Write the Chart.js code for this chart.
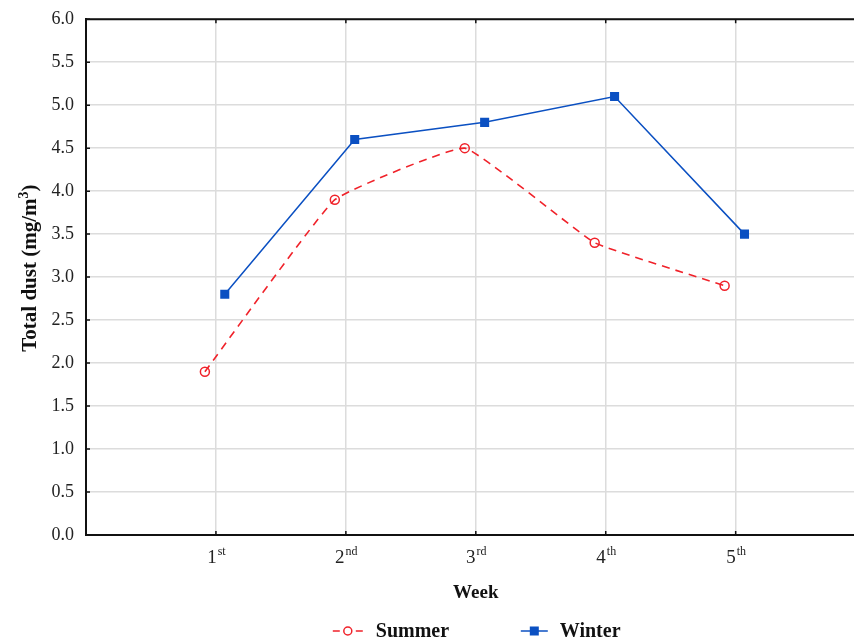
<!DOCTYPE html>
<html>
<head>
<meta charset="utf-8">
<script src="https://cdn.jsdelivr.net/npm/chart.js@4"></script>
<style>
  html, body { margin: 0; padding: 0; background: #fff; overflow: hidden; }
  #wrap { width: 872px; height: 642px; }
</style>
</head>
<body>
<div id="wrap"><canvas id="dustChart"></canvas></div>
<script>
// data
const weeks = [1, 2, 3, 4, 5];
const weekSuffix = ["st", "nd", "rd", "th", "th"];
const summerDust = [1.9, 3.9, 4.5, 3.4, 2.9];
const winterDust = [2.8, 4.6, 4.8, 5.1, 3.5];
const yTickStep = 0.5;
const yMax = 6;

const RED = "#f0222a";
const BLUE = "#0b50c2";
const SERIF = "'Liberation Serif', 'Times New Roman', serif";

// the two series sit slightly left / right of each week
const toPoints = (vals, shift) => vals.map((v, i) => ({ x: weeks[i] + shift, y: v }));

// draws top frame, inner ticks, week labels with superscripts, y title and the legend
const decorations = {
  id: "decorations",
  afterDraw(chart) {
    const { ctx, chartArea: a, scales: { x, y } } = chart;
    ctx.save();
    ctx.strokeStyle = "#111";
    ctx.lineWidth = 2;
    ctx.beginPath();
    ctx.moveTo(a.left - 1, a.top);
    ctx.lineTo(a.right, a.top);
    ctx.stroke();

    ctx.lineWidth = 1.5;
    ctx.beginPath();
    for (let v = yTickStep; v <= yMax; v += yTickStep) {
      const py = y.getPixelForValue(v);
      ctx.moveTo(a.left, py);
      ctx.lineTo(a.left + 4, py);
    }
    weeks.forEach(w => {
      const px = x.getPixelForValue(w);
      ctx.moveTo(px, a.bottom);
      ctx.lineTo(px, a.bottom - 4);
      ctx.moveTo(px, a.top);
      ctx.lineTo(px, a.top + 4);
    });
    ctx.stroke();

    // week labels, e.g. 1st with raised suffix
    ctx.fillStyle = "#222";
    ctx.textBaseline = "alphabetic";
    weeks.forEach((w, i) => {
      const px = x.getPixelForValue(w);
      ctx.font = "19px " + SERIF;
      const nw = ctx.measureText(String(w)).width;
      ctx.font = "12px " + SERIF;
      const sw = ctx.measureText(weekSuffix[i]).width;
      const left = px - (nw + sw) / 2;
      ctx.font = "19px " + SERIF;
      ctx.textAlign = "left";
      ctx.fillText(String(w), left, a.bottom + 28);
      ctx.font = "12px " + SERIF;
      ctx.fillText(weekSuffix[i], left + nw + 1, a.bottom + 20);
    });

    // y title with a real superscript
    ctx.save();
    ctx.translate(30, (a.top + a.bottom) / 2 - 9);
    ctx.rotate(-Math.PI / 2);
    ctx.fillStyle = "#111";
    ctx.textBaseline = "middle";
    ctx.textAlign = "left";
    const big = "bold 21px " + SERIF, small = "bold 14px " + SERIF;
    ctx.font = big;
    const t1 = "Total dust (mg/m", t3 = ")";
    const w1 = ctx.measureText(t1).width, w3 = ctx.measureText(t3).width;
    ctx.font = small;
    const w2 = ctx.measureText("3").width;
    let tx = -(w1 + w2 + w3) / 2;
    ctx.font = big;
    ctx.fillText(t1, tx, 1);
    ctx.font = small;
    ctx.fillText("3", tx + w1, -6);
    ctx.font = big;
    ctx.fillText(t3, tx + w1 + w2, 1);
    ctx.restore();

    // legend
    const cx = (a.left + a.right) / 2;
    const ly = 631;
    ctx.lineWidth = 1.5;
    ctx.strokeStyle = RED;
    ctx.beginPath();
    ctx.moveTo(cx - 143, ly);
    ctx.lineTo(cx - 136, ly);
    ctx.moveTo(cx - 120, ly);
    ctx.lineTo(cx - 113, ly);
    ctx.stroke();
    ctx.beginPath();
    ctx.arc(cx - 128, ly, 4, 0, Math.PI * 2);
    ctx.stroke();

    ctx.strokeStyle = BLUE;
    ctx.beginPath();
    ctx.moveTo(cx + 45, ly);
    ctx.lineTo(cx + 72, ly);
    ctx.stroke();
    ctx.fillStyle = BLUE;
    ctx.fillRect(cx + 54, ly - 4.5, 9, 9);

    ctx.fillStyle = "#111";
    ctx.font = "bold 20px " + SERIF;
    ctx.textAlign = "left";
    ctx.textBaseline = "middle";
    ctx.fillText("Summer", cx - 100, ly + 1);
    ctx.fillText("Winter", cx + 84, ly + 1);
    ctx.restore();
  }
};

new Chart(document.getElementById("dustChart"), {
  type: "line",
  data: {
    datasets: [
      {
        label: "Summer",
        data: toPoints(summerDust, -0.085),
        borderColor: RED,
        borderWidth: 1.6,
        borderDash: [8, 6],
        tension: 0.1,
        pointStyle: "circle",
        pointRadius: 4.5,
        pointBorderWidth: 1.5,
        pointBorderColor: RED,
        pointBackgroundColor: "rgba(0,0,0,0)",
      },
      {
        label: "Winter",
        data: toPoints(winterDust, 0.068),
        borderColor: BLUE,
        borderWidth: 1.5,
        tension: 0,
        pointStyle: "rect",
        pointRadius: 6.4,
        pointBorderWidth: 0,
        pointBackgroundColor: BLUE,
      },
    ],
  },
  options: {
    responsive: true,
    maintainAspectRatio: false,
    animation: false,
    layout: { padding: { top: 10, right: 0, bottom: 38, left: 0 } },
    plugins: { legend: { display: false }, tooltip: { enabled: false } },
    scales: {
      x: {
        type: "linear",
        min: 0,
        max: 6,
        ticks: { stepSize: 1, display: false },
        grid: { color: "#dcdcdc", lineWidth: 1.5, drawTicks: false },
        border: { color: "#111", width: 2 },
        title: {
          display: true,
          text: "Week",
          color: "#111",
          font: { family: SERIF, size: 19, weight: "bold" },
          padding: 0,
        },
        afterFit: s => { s.height = 69; },
      },
      y: {
        min: 0,
        max: yMax,
        ticks: {
          stepSize: yTickStep,
          color: "#222",
          padding: 12,
          font: { family: SERIF, size: 18, lineHeight: 0.8 },
          callback: v => v.toFixed(1),
        },
        grid: { color: "#dcdcdc", lineWidth: 1.5, drawTicks: false },
        border: { color: "#111", width: 2 },
        afterFit: s => { s.width = 86; },
      },
    },
  },
  plugins: [decorations],
});
</script>
</body>
</html>
